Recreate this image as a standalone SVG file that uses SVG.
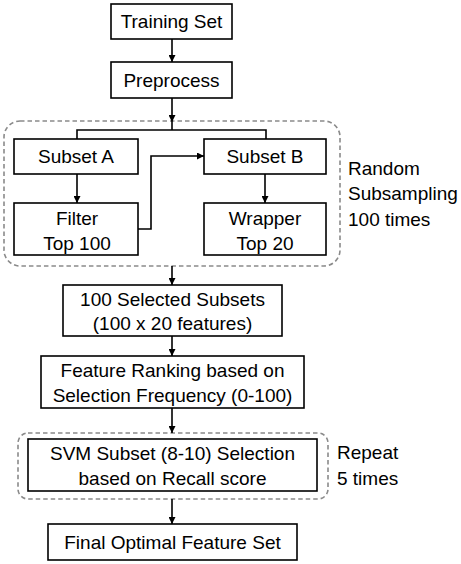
<svg xmlns="http://www.w3.org/2000/svg" width="461" height="564" viewBox="0 0 461 564">
<defs>
<marker id="ah" viewBox="0 0 8 8" refX="8" refY="4" markerWidth="7" markerHeight="7" markerUnits="userSpaceOnUse" orient="auto">
<path d="M0,0 L8,4 L0,8 Z" fill="#000"/>
</marker>
<style>
.box{fill:#fff;stroke:#000;stroke-width:1.6}
.grp{fill:none;stroke:#8a8a8a;stroke-width:1.6;stroke-dasharray:4.5 3}
.t{font-family:"Liberation Sans",Arial,sans-serif;font-size:19px;fill:#000;text-anchor:middle}
.s{font-family:"Liberation Sans",Arial,sans-serif;font-size:19px;fill:#000}
.c{fill:none;stroke:#000;stroke-width:1.6}
</style>
</defs>
<rect width="461" height="564" fill="#fff"/>
<g id="group-random">
<rect class="grp" x="4" y="121" width="336" height="145" rx="16" ry="16"/>
<text class="s" x="348" y="175">Random</text>
<text class="s" x="348" y="200">Subsampling</text>
<text class="s" x="348" y="226">100 times</text>
</g>
<g id="group-repeat">
<rect class="grp" x="18" y="433" width="310" height="66" rx="10" ry="10"/>
<text class="s" x="337" y="459">Repeat</text>
<text class="s" x="337" y="485">5 times</text>
</g>
<g id="connectors">
<line class="c" x1="172" y1="39" x2="172" y2="62" marker-end="url(#ah)"/>
<line class="c" x1="172" y1="98" x2="172" y2="122" marker-end="url(#ah)"/>
<line class="c" x1="172" y1="122" x2="172" y2="130"/>
<polyline class="c" points="77,139 77,130 266,130 266,139"/>
<line class="c" x1="77" y1="174" x2="77" y2="203" marker-end="url(#ah)"/>
<line class="c" x1="265" y1="174" x2="265" y2="203" marker-end="url(#ah)"/>
<polyline class="c" points="138,229 151,229 151,156 204,156" marker-end="url(#ah)"/>
<line class="c" x1="172" y1="266" x2="172" y2="285" marker-end="url(#ah)"/>
<line class="c" x1="172" y1="336" x2="172" y2="356" marker-end="url(#ah)"/>
<line class="c" x1="172" y1="408" x2="172" y2="433" marker-end="url(#ah)"/>
<line class="c" x1="172" y1="499" x2="172" y2="524" marker-end="url(#ah)"/>
</g>
<g id="training-set">
<rect class="box" x="111" y="4" width="121" height="35"/>
<text class="t" x="171.5" y="28">Training Set</text>
</g>
<g id="preprocess">
<rect class="box" x="111" y="62" width="121" height="36"/>
<text class="t" x="171.5" y="87">Preprocess</text>
</g>
<g id="subset-a">
<rect class="box" x="14" y="139" width="124" height="35"/>
<text class="t" x="76" y="163">Subset A</text>
</g>
<g id="subset-b">
<rect class="box" x="204" y="139" width="122" height="35"/>
<text class="t" x="265" y="163">Subset B</text>
</g>
<g id="filter">
<rect class="box" x="14" y="203" width="124" height="52"/>
<text class="t" x="77" y="225">Filter</text>
<text class="t" x="77" y="250">Top 100</text>
</g>
<g id="wrapper">
<rect class="box" x="204" y="203" width="122" height="52"/>
<text class="t" x="265" y="225">Wrapper</text>
<text class="t" x="265" y="250">Top 20</text>
</g>
<g id="selected-subsets">
<rect class="box" x="63" y="285" width="219" height="51"/>
<text class="t" x="172.5" y="306">100 Selected Subsets</text>
<text class="t" x="172.5" y="330">(100 x 20 features)</text>
</g>
<g id="feature-ranking">
<rect class="box" x="41" y="356" width="263" height="52"/>
<text class="t" x="172.5" y="377">Feature Ranking based on</text>
<text class="t" x="172.5" y="402">Selection Frequency (0-100)</text>
</g>
<g id="svm-selection">
<rect class="box" x="28" y="439" width="289" height="52"/>
<text class="t" x="172.5" y="460">SVM Subset (8-10) Selection</text>
<text class="t" x="172.5" y="485">based on Recall score</text>
</g>
<g id="final-set">
<rect class="box" x="48" y="524" width="249" height="36"/>
<text class="t" x="172.5" y="549">Final Optimal Feature Set</text>
</g>
</svg>
